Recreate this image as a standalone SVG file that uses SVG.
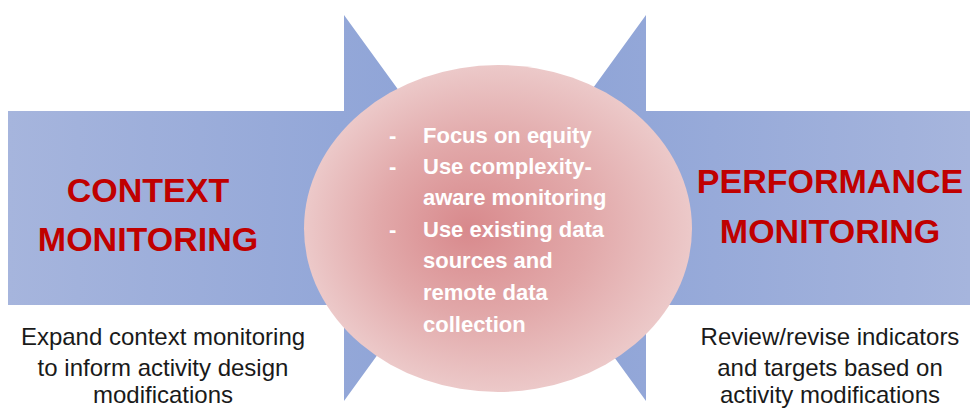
<svg xmlns="http://www.w3.org/2000/svg" width="970" height="409" viewBox="0 0 970 409">
  <style>
    .title { font-family: "Liberation Sans", Arial, sans-serif; font-weight: bold; font-size: 34px; fill: #c00000; text-anchor: middle; }
    .note { font-family: "Liberation Sans", Arial, sans-serif; font-size: 24px; fill: #1a1a1a; text-anchor: middle; }
    .bul { font-family: "Liberation Sans", Arial, sans-serif; font-weight: bold; font-size: 22px; fill: #ffffff; }
  </style>
  <defs>
    <linearGradient id="gL" gradientUnits="userSpaceOnUse" x1="8" y1="0" x2="484" y2="0">
      <stop offset="0" stop-color="#a6b5dd"/>
      <stop offset="0.7" stop-color="#93a7d8"/>
      <stop offset="1" stop-color="#8ca2d6"/>
    </linearGradient>
    <linearGradient id="gR" gradientUnits="userSpaceOnUse" x1="970" y1="0" x2="506" y2="0">
      <stop offset="0" stop-color="#a6b5dd"/>
      <stop offset="0.7" stop-color="#93a7d8"/>
      <stop offset="1" stop-color="#8ca2d6"/>
    </linearGradient>
    <radialGradient id="gE" cx="0.5" cy="0.5" r="0.5" fx="0.42" fy="0.5">
      <stop offset="0" stop-color="#d8898c"/>
      <stop offset="0.55" stop-color="#e2a9aa"/>
      <stop offset="1" stop-color="#ecc9c9"/>
    </radialGradient>
  </defs>

  <g id="context-arrow">
    <polygon points="8,111 344,111 344,15 484,208 344,401 344,305 8,305" fill="url(#gL)"/>
    <text class="title" x="148" y="202">CONTEXT</text>
    <text class="title" x="148" y="251">MONITORING</text>
  </g>

  <g id="performance-arrow">
    <polygon points="970,111 646,111 646,15 506,208 646,401 646,305 970,305" fill="url(#gR)"/>
    <text class="title" x="830" y="193">PERFORMANCE</text>
    <text class="title" x="830" y="243">MONITORING</text>
  </g>

  <g id="center">
    <ellipse cx="498" cy="228.5" rx="194" ry="163.5" fill="url(#gE)"/>
    <text class="bul" x="389" y="143">-</text>
    <text class="bul" x="423" y="143">Focus on equity</text>
    <text class="bul" x="389" y="174">-</text>
    <text class="bul" x="423" y="174">Use complexity-</text>
    <text class="bul" x="423" y="205">aware monitoring</text>
    <text class="bul" x="389" y="237">-</text>
    <text class="bul" x="423" y="237">Use existing data</text>
    <text class="bul" x="423" y="268">sources and</text>
    <text class="bul" x="423" y="300">remote data</text>
    <text class="bul" x="423" y="332">collection</text>
  </g>

  <g id="context-note">
    <text class="note" x="163" y="345">Expand context monitoring</text>
    <text class="note" x="163" y="376">to inform activity design</text>
    <text class="note" x="163" y="403">modifications</text>
  </g>

  <g id="performance-note">
    <text class="note" x="830" y="345">Review/revise indicators</text>
    <text class="note" x="830" y="376">and targets based on</text>
    <text class="note" x="830" y="403">activity modifications</text>
  </g>

  <g id="connectors"></g>
</svg>
